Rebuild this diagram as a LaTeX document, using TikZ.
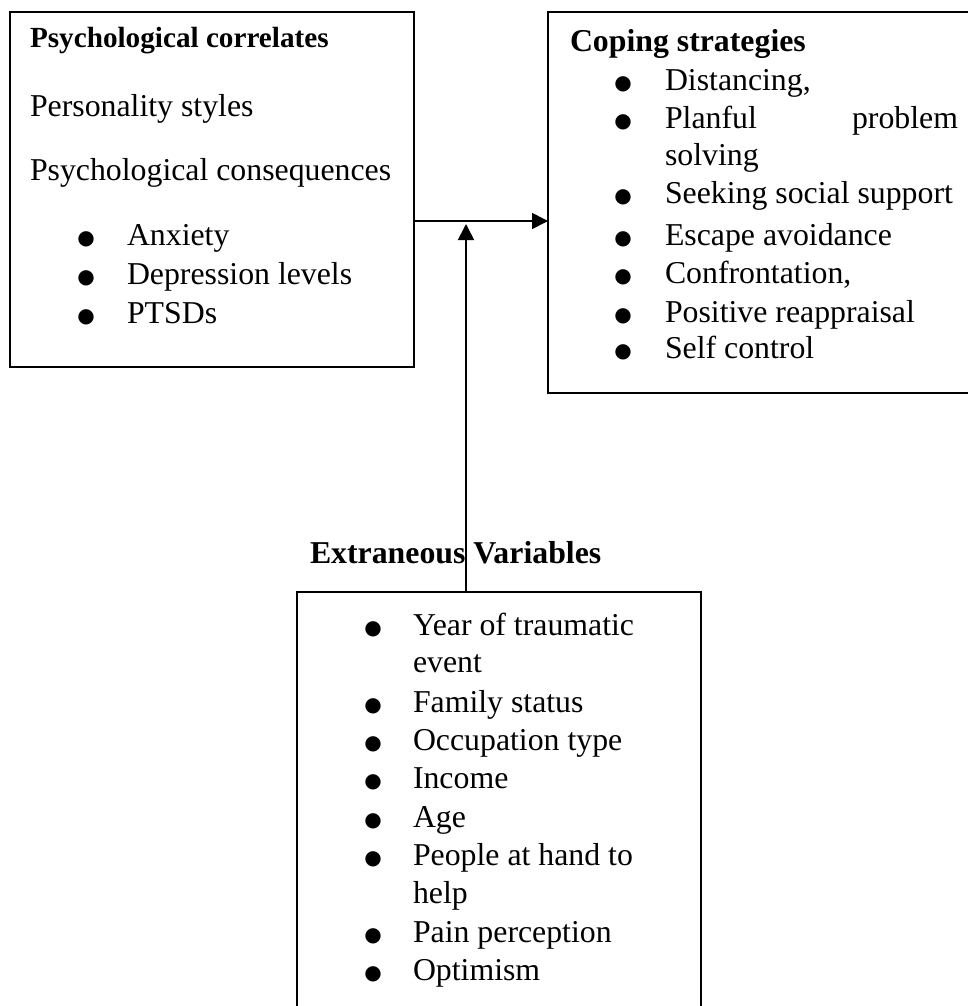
\documentclass[tikz,border=0pt]{standalone}
\usepackage{fontspec}
\setmainfont{Liberation Serif}
\newfontfamily\symfont{DejaVu Sans}
\usetikzlibrary{arrows.meta}
\newcommand{\bodyfont}{\fontsize{23.85}{28.6}\selectfont}
\newcommand{\smallhead}{\fontsize{21.9}{26}\selectfont}
\newcommand{\bulfont}{\symfont\fontsize{15}{16}\selectfont}
\begin{document}
\begin{tikzpicture}[x=0.75pt,y=-0.75pt,
  box/.style={draw, line width=1.3pt, rectangle, inner sep=0pt, outer sep=0pt, anchor=north west},
  txt/.style={anchor=base west, inner sep=0pt, outer sep=0pt, font=\bodyfont},
  head/.style={anchor=base west, inner sep=0pt, outer sep=0pt, font=\bfseries\bodyfont},
  lhead/.style={anchor=base west, inner sep=0pt, outer sep=0pt, font=\bfseries\smallhead},
  bul/.style={anchor=center, inner sep=0pt, outer sep=0pt, font=\bulfont, yshift=-1.5pt},
  conn/.style={line width=1.3pt, -{Triangle[length=12pt,width=12pt]}}]
\useasboundingbox (0,0) rectangle (967,1006);

% boxes
\node[box, minimum width=303pt, minimum height=266.25pt] (left) at (10,12) {};
\node[box, minimum width=339pt, minimum height=285.75pt] (right) at (548,12) {};
\node[box, minimum width=303pt, minimum height=321pt] (bot) at (297,592) {};

% left box text
\node[lhead] (l0) at (30,48) {Psychological correlates};
\node[txt] (l1) at (30,117) {Personality styles};
\node[txt] (l2) at (30,180) {Psychological consequences};
\node[bul] (lb1) at (86,237) {●};
\node[txt] (l3) at (127,245) {Anxiety};
\node[bul] (lb2) at (86,276) {●};
\node[txt] (l4) at (127,284) {Depression levels};
\node[bul] (lb3) at (86,315) {●};
\node[txt] (l5) at (127,323) {PTSDs};

% right box text
\node[head] (r0) at (570,52) {Coping strategies};
\node[bul] (rb1) at (623,82) {●};
\node[txt] (r1) at (665,90) {Distancing,};
\node[bul] (rb2) at (623,120) {●};
\node[txt] (r2) at (665,128) {\makebox[219.75pt][s]{Planful problem}};
\node[txt] (r3) at (665,165) {solving};
\node[bul] (rb3) at (623,195) {●};
\node[txt] (r4) at (665,203) {Seeking social support};
\node[bul] (rb4) at (623,237) {●};
\node[txt] (r5) at (665,245) {Escape avoidance};
\node[bul] (rb5) at (623,275) {●};
\node[txt] (r6) at (665,283) {Confrontation,};
\node[bul] (rb6) at (623,314) {●};
\node[txt] (r7) at (665,322) {Positive reappraisal};
\node[bul] (rb7) at (623,350) {●};
\node[txt] (r8) at (665,358) {Self control};

% bottom box text
\node[head] (b0) at (310,563) {Extraneous Variables};
\node[bul] (bb1) at (373,627) {●};
\node[txt] (b1) at (413,635) {Year of traumatic};
\node[txt] (b2) at (413,672) {event};
\node[bul] (bb2) at (373,704) {●};
\node[txt] (b3) at (413,712) {Family status};
\node[bul] (bb3) at (373,742) {●};
\node[txt] (b4) at (413,750) {Occupation type};
\node[bul] (bb4) at (373,780) {●};
\node[txt] (b5) at (413,788) {Income};
\node[bul] (bb5) at (373,819) {●};
\node[txt] (b6) at (413,827) {Age};
\node[bul] (bb6) at (373,857) {●};
\node[txt] (b7) at (413,865) {People at hand to};
\node[txt] (b8) at (413,903) {help};
\node[bul] (bb7) at (373,934) {●};
\node[txt] (b9) at (413,942) {Pain perception};
\node[bul] (bb8) at (373,972) {●};
\node[txt] (b10) at (413,980) {Optimism};

% connectors
\coordinate (hy) at (0,221);
\coordinate (tip) at (466,224);
\draw[conn] (left.east |- hy) -- (right.west |- hy);
\draw[conn] (bot.north -| tip) -- (tip);
\end{tikzpicture}
\end{document}
